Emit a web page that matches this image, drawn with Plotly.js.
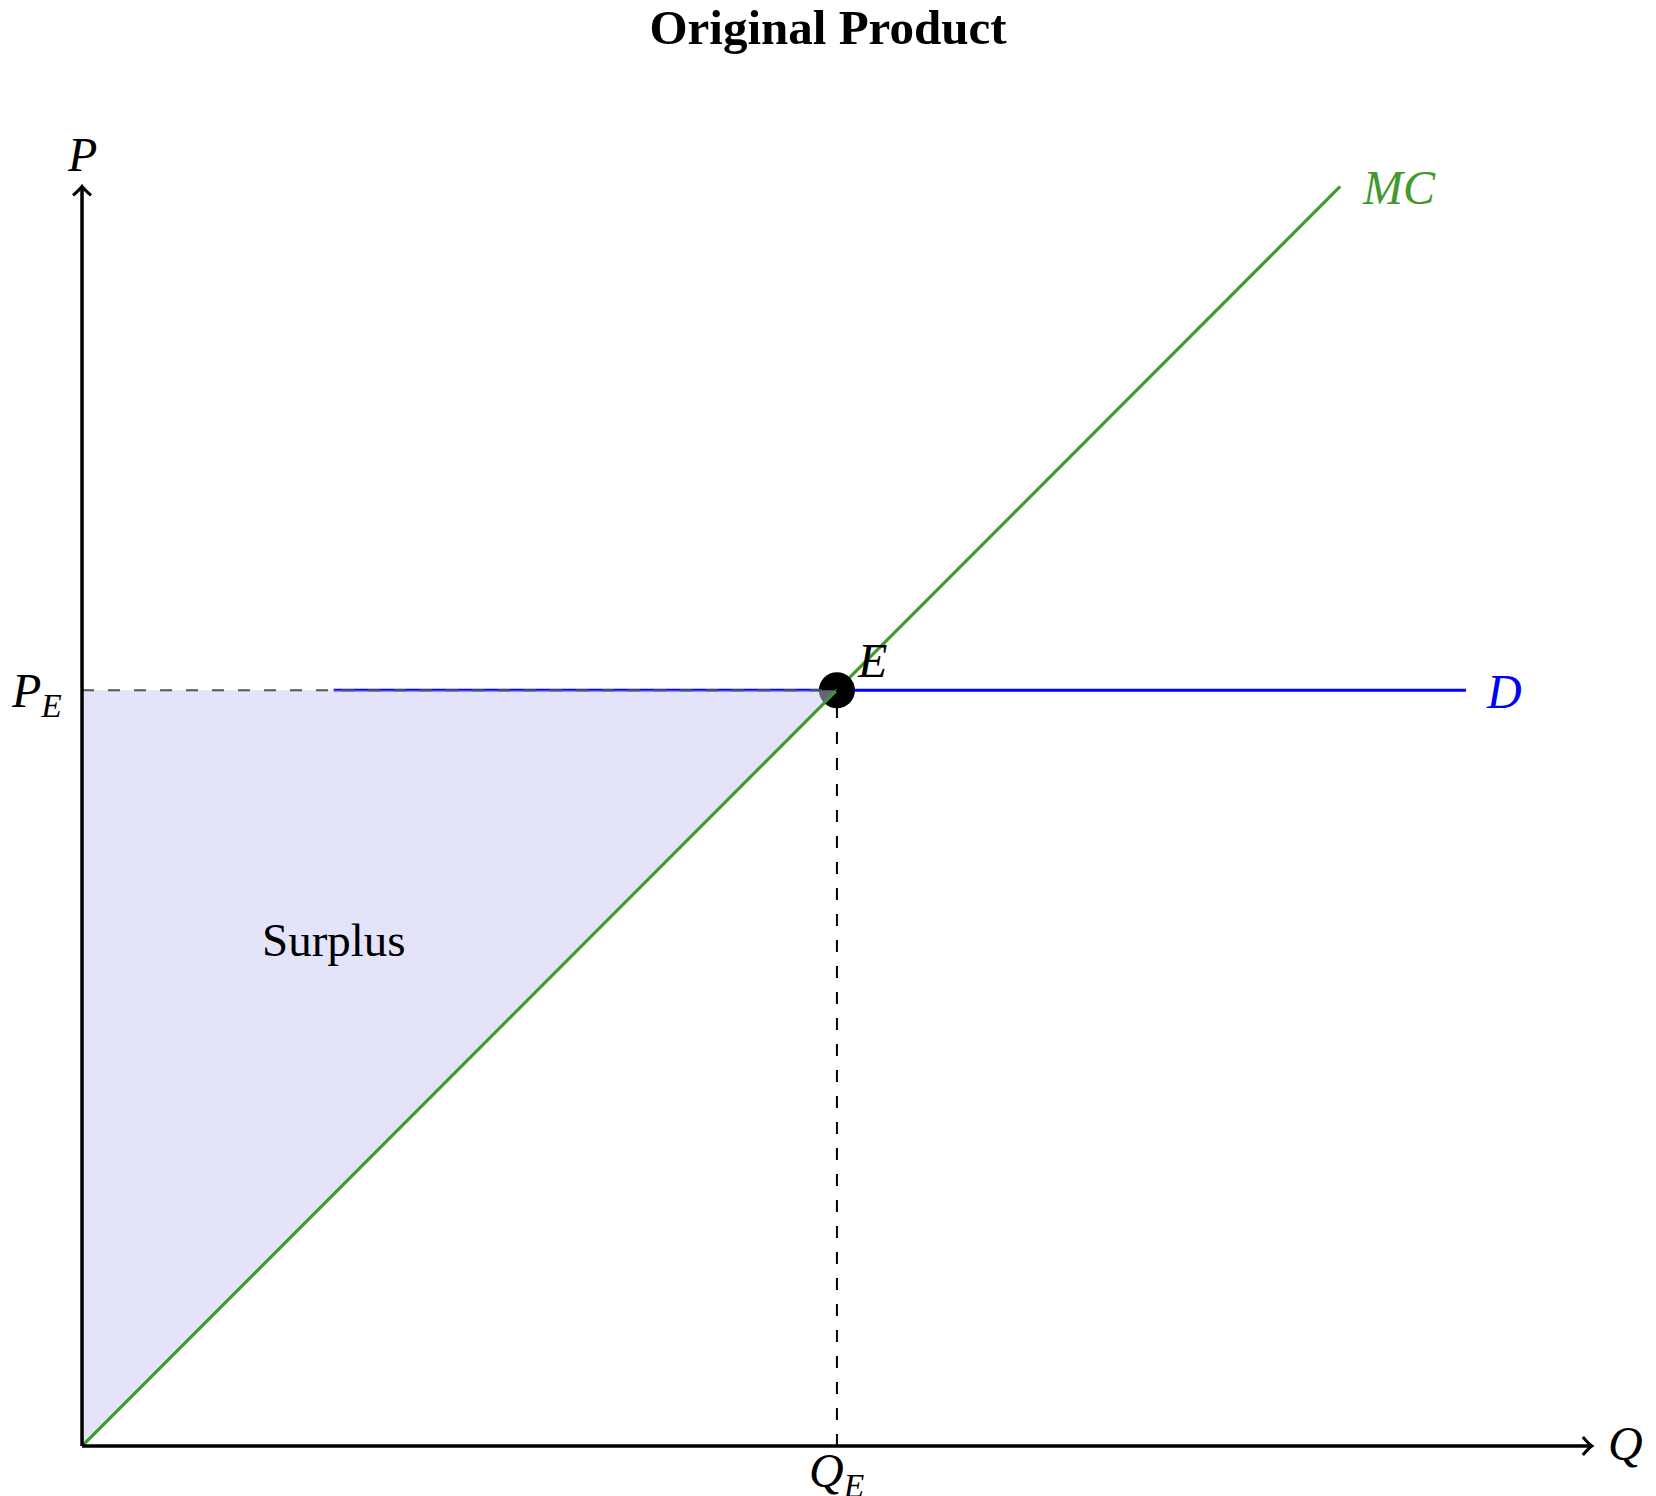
<!DOCTYPE html>
<html>
<head>
<meta charset="utf-8">
<script src="https://cdn.plot.ly/plotly-3.0.1.min.js"></script>
<style>html,body{margin:0;padding:0;background:#fff;}#chart{width:1656px;height:1496px;}</style>
</head>
<body>
<div id="chart"></div>
<script>
// Data
const mcQ = [0, 10];
const mcP = [0, 10];
const demandQ = [2, 11];
const demandP = [6, 6];
const equilibriumQ = [6];
const equilibriumP = [6];
const surplusQ = [0, 0, 6, 0];
const surplusP = [0, 6, 6, 0];
const priceGuideQ = [0, 6];
const priceGuideP = [6, 6];
const quantityGuideQ = [6, 6];
const quantityGuideP = [0, 6];
const axisMaxQ = 12;
const axisMaxP = 10;

const serif = 'Liberation Serif, Times New Roman, serif';
const green = '#429a2e';
const labelSize = 48;

const traces = [
  {x: demandQ, y: demandP, mode: 'lines', line: {color: '#0000ff', width: 3.2}, hoverinfo: 'skip'},
  {x: mcQ, y: mcP, mode: 'lines', line: {color: green, width: 3.2}, hoverinfo: 'skip'},
  {x: equilibriumQ, y: equilibriumP, mode: 'markers', marker: {color: '#000', size: 36}, hoverinfo: 'skip', cliponaxis: false},
  {x: surplusQ, y: surplusP, mode: 'lines', fill: 'toself', fillcolor: 'rgba(200,200,245,0.5)', line: {width: 0}, hoverinfo: 'skip'},
  {x: [mcQ[0], equilibriumQ[0]], y: [mcP[0], equilibriumP[0]], mode: 'lines', line: {color: green, width: 2.6}, hoverinfo: 'skip'},
  {x: priceGuideQ, y: priceGuideP, mode: 'lines', line: {color: '#555', width: 2, dash: '12px,14px'}, hoverinfo: 'skip'},
  {x: quantityGuideQ, y: quantityGuideP, mode: 'lines', line: {color: '#000', width: 2, dash: '12px,14px'}, hoverinfo: 'skip'}
];

const ann = (x, y, text, color, size, extra) => Object.assign({
  x: x, y: y, xref: 'x', yref: 'y', text: text, showarrow: false,
  font: {family: serif, size: size || labelSize, color: color || '#000'},
  xanchor: 'center', yanchor: 'middle'
}, extra || {});

const layout = {
  width: 1656, height: 1496, autosize: false,
  margin: {l: 0, r: 0, t: 0, b: 0},
  paper_bgcolor: '#fff', plot_bgcolor: '#fff',
  showlegend: false,
  title: {
    text: '<b>Original Product</b>',
    x: 0.5, xanchor: 'center', xref: 'paper',
    y: 1 - 27 / 1496, yanchor: 'middle', yref: 'container',
    font: {family: serif, size: 49, color: '#000'}
  },
  xaxis: {range: [-0.652, 12.51], visible: false, fixedrange: true},
  yaxis: {range: [-0.397, 11.48], visible: false, fixedrange: true},
  shapes: [
    {type: 'line', xref: 'x', yref: 'y', x0: 0, y0: 0, x1: axisMaxQ, y1: 0, line: {color: '#000', width: 3.5}},
    {type: 'line', xref: 'x', yref: 'y', x0: 0, y0: 0, x1: 0, y1: axisMaxP, line: {color: '#000', width: 3.5}},
    {type: 'path', xref: 'x', yref: 'y', xsizemode: 'pixel', ysizemode: 'pixel', xanchor: axisMaxQ, yanchor: 0,
     path: 'M-9,9 Q-3,2 0,0 Q-3,-2 -9,-9', line: {color: '#000', width: 3}},
    {type: 'path', xref: 'x', yref: 'y', xsizemode: 'pixel', ysizemode: 'pixel', xanchor: 0, yanchor: axisMaxP,
     path: 'M-9,-9 Q-2,-3 0,0 Q2,-3 9,-9', line: {color: '#000', width: 3}}
  ],
  annotations: [
    ann(0, 10.25, '<i>P</i>'),
    ann(12.27, 0.02, '<i>Q</i>'),
    ann(10.47, 9.99, '<i>MC</i>', green),
    ann(11.30, 5.99, '<i>D</i>', '#0000ff'),
    ann(6.28, 6.24, '<i>E</i>'),
    ann(-0.36, 5.97, '<i>P</i><sub><i>E</i></sub>'),
    ann(6.0, -0.22, '<i>Q</i><sub><i>E</i></sub>'),
    ann(2.0, 4.02, 'Surplus', '#000', 47)
  ]
};

Plotly.newPlot('chart', traces, layout, {displayModeBar: false, staticPlot: true});
</script>
</body>
</html>
